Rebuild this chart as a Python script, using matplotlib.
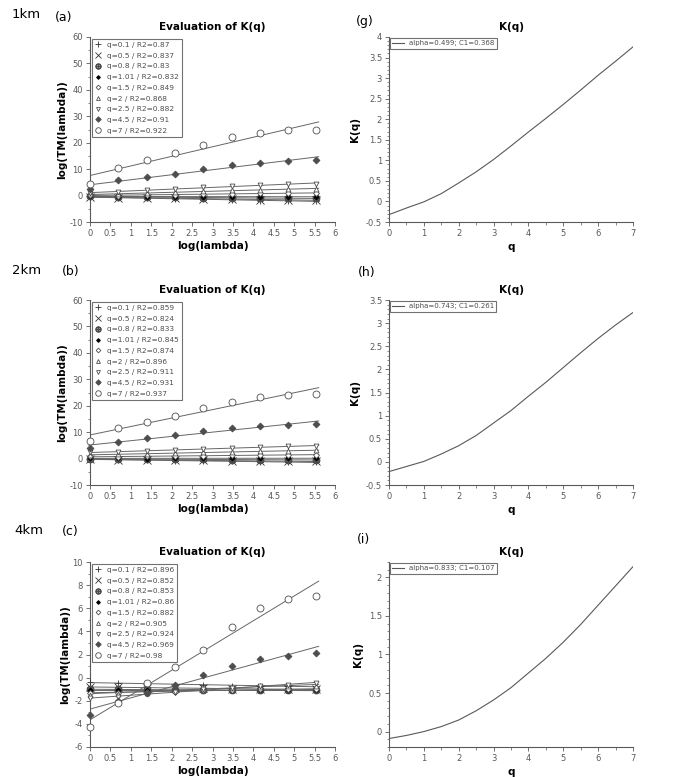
import numpy as np
import matplotlib.pyplot as plt
from matplotlib.ticker import MultipleLocator, FormatStrFormatter

# log(lambda) values (ln of 2^k)
log_lambda = [0, 0.693, 1.386, 2.079, 2.773, 3.466, 4.159, 4.852, 5.545]
q_list = [0.1, 0.5, 0.8, 1.01, 1.5, 2, 2.5, 4.5, 7]

# 1km
r2_1km = [0.87, 0.837, 0.83, 0.832, 0.849, 0.868, 0.882, 0.91, 0.922]
tm_1km = [
    [-0.5, -0.9, -1.0, -1.2, -1.4, -1.6, -1.9, -2.0, -2.1],
    [-0.4, -0.8, -0.9, -1.0, -1.2, -1.4, -1.5, -1.6, -1.7],
    [-0.3, -0.5, -0.6, -0.7, -0.8, -0.9, -0.9, -1.0, -1.0],
    [-0.2, -0.4, -0.4, -0.4, -0.4, -0.5, -0.4, -0.4, -0.4],
    [0.2, 0.0, 0.2, 0.4, 0.5, 0.7, 0.8, 0.9, 1.0],
    [0.5, 0.5, 0.9, 1.3, 1.6, 2.0, 2.2, 2.4, 2.6],
    [1.0, 1.5, 2.0, 2.5, 3.1, 3.6, 4.0, 4.3, 4.5],
    [2.5, 5.8, 7.2, 8.3, 10.0, 11.5, 12.3, 13.2, 13.3],
    [4.5, 10.5, 13.5, 16.0, 19.0, 22.0, 23.5, 24.7, 25.0],
]

# 2km
r2_2km = [0.859, 0.824, 0.833, 0.845, 0.874, 0.896, 0.911, 0.931, 0.937]
tm_2km = [
    [-0.2, -0.5, -0.6, -0.8, -0.9, -1.1, -1.2, -1.3, -1.4],
    [-0.2, -0.4, -0.5, -0.6, -0.7, -0.8, -0.9, -1.0, -1.1],
    [-0.1, -0.2, -0.2, -0.3, -0.3, -0.4, -0.4, -0.5, -0.5],
    [0.1, 0.1, 0.0, 0.1, 0.1, 0.2, 0.1, 0.1, 0.1],
    [0.8, 0.7, 0.8, 0.9, 1.1, 1.2, 1.3, 1.4, 1.5],
    [1.5, 1.6, 1.8, 2.0, 2.3, 2.5, 2.8, 3.0, 3.1],
    [2.5, 2.5, 2.8, 3.2, 3.6, 4.0, 4.4, 4.7, 4.8],
    [4.0, 6.3, 7.7, 8.8, 10.3, 11.5, 12.3, 12.8, 13.0],
    [6.5, 11.5, 14.0, 16.0, 19.0, 21.5, 23.3, 24.0, 24.3],
]

# 4km
r2_4km = [0.896, 0.852, 0.853, 0.86, 0.882, 0.905, 0.924, 0.969, 0.98]
tm_4km = [
    [-0.4, -0.5, -0.5, -0.6, -0.6, -0.7, -0.7, -0.7, -0.8],
    [-0.8, -0.8, -0.9, -0.9, -0.9, -1.0, -1.0, -1.0, -1.0],
    [-1.0, -1.0, -1.0, -1.1, -1.1, -1.1, -1.1, -1.1, -1.1],
    [-1.1, -1.1, -1.1, -1.2, -1.1, -1.1, -1.1, -1.1, -1.1],
    [-1.3, -1.3, -1.2, -1.2, -1.1, -1.1, -1.0, -1.0, -1.0],
    [-1.5, -1.4, -1.3, -0.6, -1.0, -0.9, -0.8, -0.7, -0.7],
    [-1.8, -1.7, -1.4, -1.2, -1.0, -0.9, -0.7, -0.6, -0.5],
    [-3.2, -2.0, -1.3, -0.6, 0.2, 1.0, 1.6, 1.9, 2.1],
    [-4.3, -2.2, -0.5, 0.9, 2.4, 4.4, 6.0, 6.8, 7.1],
]

# K(q) curves
q_vals = [0, 0.5, 1, 1.5, 2, 2.5, 3, 3.5, 4, 4.5, 5, 5.5, 6, 6.5, 7]
k_1km = [-0.32, -0.16, -0.01, 0.19, 0.45, 0.72, 1.02, 1.35, 1.69, 2.02, 2.36, 2.71, 3.07, 3.41, 3.76]
k_2km = [-0.21, -0.1, 0.01, 0.17, 0.35, 0.57, 0.84, 1.11, 1.42, 1.72, 2.04, 2.36, 2.67, 2.96, 3.23]
k_4km = [-0.09, -0.05, 0.0, 0.065, 0.15, 0.27, 0.41, 0.57, 0.76, 0.95, 1.16, 1.39, 1.64, 1.89, 2.14]
k_labels = ["alpha=0.499; C1=0.368", "alpha=0.743; C1=0.261", "alpha=0.833; C1=0.107"]

# marker styles for each q
markers = ['+', 'x', r'$\oplus$', 'D', 'D', '^', 'v', 'D', 'o']
msizes = [5, 6, 5, 2.5, 3, 3.5, 3.5, 3.5, 5]
faces = ['k', 'k', 'k', 'k', 'white', 'white', 'white', '0.3', 'white']
edges = ['0.2', '0.2', '0.3', 'k', '0.3', '0.3', '0.3', '0.3', '0.3']

fig = plt.figure(figsize=(6.74, 7.77), dpi=100)
W, H = 674.0, 777.0


def add_ax(l, t, r, b):
    return fig.add_axes([l / W, 1 - b / H, (r - l) / W, (b - t) / H])


def style_ax(ax):
    for s in ['top', 'right']:
        ax.spines[s].set_visible(False)
    for s in ['left', 'bottom']:
        ax.spines[s].set_color('0.35')
        ax.spines[s].set_linewidth(0.8)
    ax.tick_params(which='major', length=3, width=0.6, color='0.35', labelsize=6, labelcolor='0.35', pad=2)
    ax.tick_params(which='minor', length=1.8, width=0.5, color='0.35')
    ax.xaxis.set_major_formatter(FormatStrFormatter('%g'))
    ax.yaxis.set_major_formatter(FormatStrFormatter('%g'))


def tm_panel(ax, tm, r2, ylim, ystep):
    x = np.array(log_lambda)
    handles = []
    for i, q in enumerate(q_list):
        y = np.array(tm[i])
        b, a = np.polyfit(x, y, 1)
        xx = np.array([0, 5.6])
        ax.plot(xx, a + b * xx, color='0.4', lw=0.7, zorder=2)
        h, = ax.plot(x, y, ls='none', marker=markers[i], ms=msizes[i],
                     mfc=faces[i], mec=edges[i], mew=0.6, color=edges[i],
                     label="q=%g / R2=%g" % (q, r2[i]), zorder=3, clip_on=False)
        handles.append(h)
    ax.set_xlim(0, 6)
    ax.set_ylim(*ylim)
    ax.xaxis.set_major_locator(MultipleLocator(0.5))
    ax.yaxis.set_major_locator(MultipleLocator(ystep))
    ax.yaxis.set_minor_locator(MultipleLocator(ystep / 2))
    style_ax(ax)
    ax.set_title("Evaluation of K(q)", fontsize=7.5, fontweight='bold', pad=5)
    ax.set_ylabel("log(TM(lambda))", fontsize=7.5, fontweight='bold', labelpad=2)
    ax.set_xlabel("log(lambda)", fontsize=7.5, fontweight='bold', labelpad=2)
    leg = ax.legend(handles=handles, loc='upper left', fontsize=5.3, frameon=True,
                    fancybox=False, edgecolor='0.3', labelspacing=0.62,
                    handlelength=1.0, handletextpad=0.7, borderpad=0.4,
                    borderaxespad=0.25, labelcolor='0.3', markerscale=0.8)
    leg.get_frame().set_linewidth(0.8)


def k_panel(ax, k, label, ylim):
    ax.plot(q_vals, k, color='0.35', lw=0.8, label=label)
    ax.set_xlim(0, 7)
    ax.set_ylim(*ylim)
    ax.xaxis.set_major_locator(MultipleLocator(1))
    ax.xaxis.set_minor_locator(MultipleLocator(0.5))
    ax.yaxis.set_major_locator(MultipleLocator(0.5))
    ax.yaxis.set_minor_locator(MultipleLocator(0.1))
    style_ax(ax)
    ax.set_title("K(q)", fontsize=7.5, fontweight='bold', pad=5)
    ax.set_ylabel("K(q)", fontsize=7.5, fontweight='bold', labelpad=4)
    ax.set_xlabel("q", fontsize=7.5, fontweight='bold', labelpad=3)
    leg = ax.legend(loc='upper left', fontsize=5, frameon=True, fancybox=False,
                    edgecolor='0.3', handlelength=1.6, borderpad=0.3,
                    borderaxespad=0.2, labelcolor='0.3')
    leg.get_frame().set_linewidth(0.8)


rows = [
    (37, 222, tm_1km, r2_1km, (-10, 60), 10, k_1km, (-0.5, 4)),
    (300, 485, tm_2km, r2_2km, (-10, 60), 10, k_2km, (-0.5, 3.5)),
    (562, 747, tm_4km, r2_4km, (-6, 10), 2, k_4km, (-0.2, 2.2)),
]
# panel tags: (text, x, y) in pixels
tags = [
    [("1km", 12, 14), ("(a)", 55, 17), ("(g)", 356, 22)],
    [("2km", 12, 271), ("(b)", 62, 271), ("(h)", 358, 272)],
    [("4km", 14, 531), ("(c)", 62, 532), ("(i)", 357, 540)],
]

for n, (top, bot, tm, r2, ylim, ystep, k, kylim) in enumerate(rows):
    axl = add_ax(90, top, 335, bot)
    tm_panel(axl, tm, r2, ylim, ystep)
    axr = add_ax(389, top, 633, bot)
    k_panel(axr, k, k_labels[n], kylim)
    for txt, px, py in tags[n]:
        fig.text(px / W, 1 - py / H, txt, fontsize=9.5 if 'km' in txt else 9, va='center')

fig.savefig('out.png', dpi=100)
